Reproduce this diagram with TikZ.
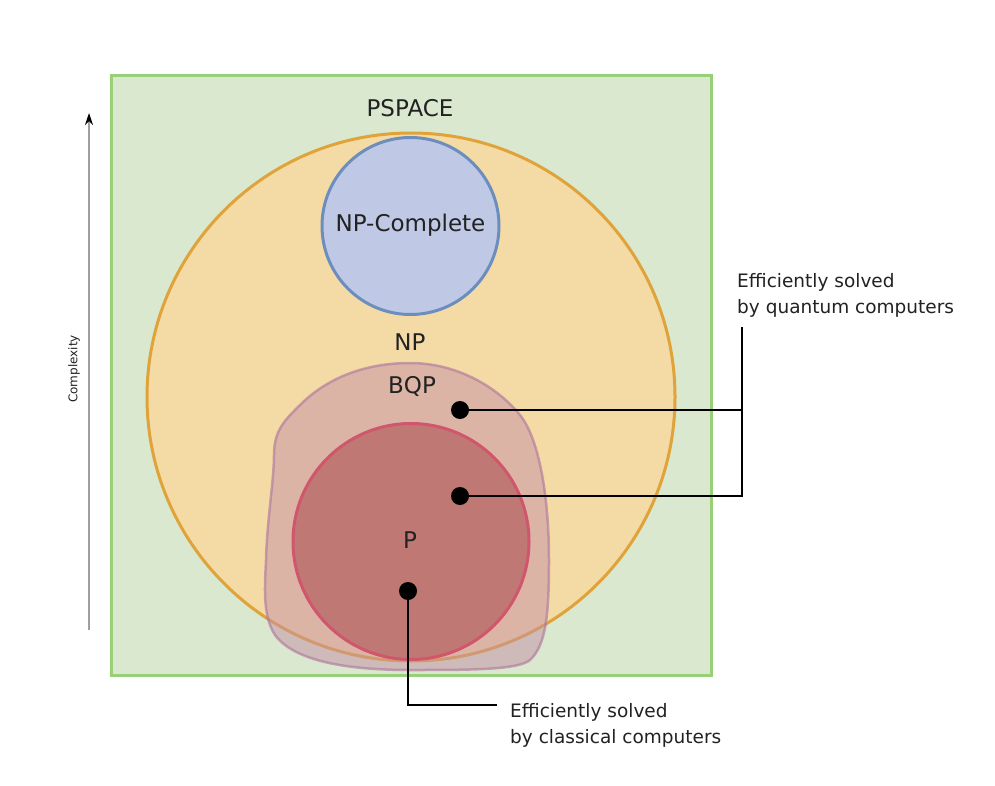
\documentclass[tikz,border=0pt]{standalone}
\usepackage{fontspec}
\setmainfont{DejaVu Sans}
\usetikzlibrary{arrows.meta}
\definecolor{psfill}{HTML}{DAE8CF}
\definecolor{psline}{HTML}{97D077}
\definecolor{npfill}{HTML}{F4DBA6}
\definecolor{npline}{HTML}{E0A33A}
\definecolor{npcfill}{HTML}{BFC8E4}
\definecolor{npcline}{HTML}{6C8EBF}
\definecolor{bqpfill}{HTML}{C58EA6}
\definecolor{bqpline}{HTML}{B07A9E}
\definecolor{pfill}{HTML}{C07875}
\definecolor{pline}{HTML}{D0566C}
\definecolor{txt}{HTML}{222222}
\begin{document}
\begin{tikzpicture}[x=1pt,y=-1pt,
  setcircle/.style={circle, inner sep=0pt, line width=3pt},
  biglabel/.style={font=\fontsize{23}{26}\selectfont, text=txt, inner sep=0pt},
  smalllabel/.style={font=\fontsize{18.5}{26}\selectfont, text=txt, inner sep=0pt, anchor=base west},
  dot/.style={circle, fill=black, inner sep=0pt, minimum size=18pt},
  leader/.style={draw=black, line width=2pt}
]
\useasboundingbox (0,0) rectangle (995,786);
\fill[white] (0,0) rectangle (995,786);

% PSPACE
\node[draw=psline, fill=psfill, line width=3pt, rectangle, inner sep=0pt,
      minimum width=600pt, minimum height=599pt] (pspace) at (411,375.5) {};
% NP
\node[setcircle, draw=npline, fill=npfill, minimum size=528pt] (np) at (411,397) {};
% NP-complete
\node[setcircle, draw=npcline, fill=npcfill, minimum size=177pt] (npc) at (410.5,226) {};
% BQP blob
\draw[bqpline, draw opacity=0.65, fill=bqpfill, fill opacity=0.5, line width=2.5pt]
  (410,363) .. controls (460,363) and (500,390) .. (520,415)
  .. controls (540,440) and (549,500) .. (549,560)
  .. controls (549,615) and (546,645) .. (530,660)
  .. controls (518,670) and (470,670) .. (410,670)
  .. controls (350,670) and (295,662) .. (275,635)
  .. controls (262,615) and (265,585) .. (266,560)
  .. controls (267,520) and (274,480) .. (274,455)
  .. controls (274,430) and (285,420) .. (300,405)
  .. controls (330,375) and (370,363) .. (410,363) -- cycle;
% P
\node[setcircle, draw=pline, fill=pfill, minimum size=236pt] (p) at (411,541.5) {};

% labels
\node[biglabel] (lpspace) at (410,108) {PSPACE};
\node[biglabel] (lnpc) at (410.5,225) {NP-Complete};
\node[biglabel] (lnp) at (410,342) {NP};
\node[biglabel] (lbqp) at (412,386) {BQP};
\node[biglabel] (lp) at (410,540) {P};

% complexity axis
\coordinate (axlow) at (89,630);
\coordinate (axhigh) at (89,113);
\draw[draw=gray!75, line width=1.5pt, -{Stealth[black, length=12pt, width=8pt]}] (axlow) -- (axhigh);
\node[rotate=90, font=\fontsize{12}{14}\selectfont, text=txt, inner sep=0pt] (lcomplex) at (74,369) {Complexity};

% dots
\node[dot] (d1) at (460,410) {};
\node[dot] (d2) at (460,496) {};
\node[dot] (d3) at (408,591) {};

% quantum label
\node[smalllabel] (lq1) at (737,287) {Efficiently solved};
\node[smalllabel] (lq2) at (737,313) {by quantum computers};
\coordinate (qtop) at (742,327);
\coordinate (qmid) at (742,410);
\coordinate (qbot) at (742,496);
\draw[leader] (d1.center) -- (qmid);
\draw[leader, line join=miter] (d2.center) -- (qbot) -- (qtop);

% classical label
\node[smalllabel] (lc1) at (510,717) {Efficiently solved};
\node[smalllabel] (lc2) at (510,743) {by classical computers};
\coordinate (ccorner) at (408,705);
\coordinate (cend) at (497,705);
\draw[leader, line join=miter] (d3.center) -- (ccorner) -- (cend);
\end{tikzpicture}
\end{document}
